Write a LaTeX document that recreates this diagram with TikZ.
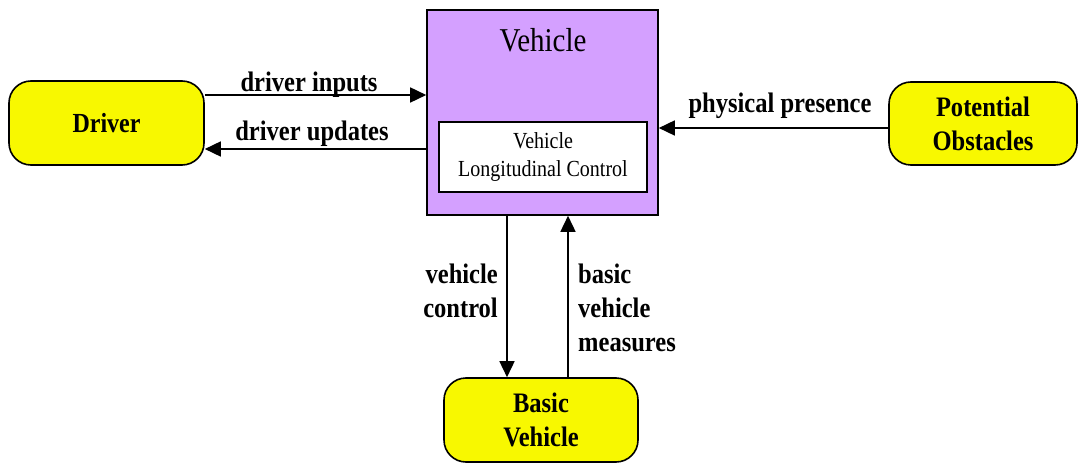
\documentclass[tikz,border=0pt]{standalone}
\usepackage{fontspec}
\setmainfont{Liberation Serif}[FakeStretch=0.87]
\usetikzlibrary{arrows.meta}
\definecolor{vpurple}{RGB}{212,160,255}
\definecolor{byellow}{RGB}{248,248,0}
\tikzset{
  ext/.style={draw=black, line width=1.6pt, fill=byellow, rounded corners=22pt, align=center, inner sep=0pt,
    font=\bfseries\fontsize{28.2}{34}\selectfont},
  arr/.style={line width=1.6pt, -{Triangle[length=16pt,width=15pt]}},
  lbl/.style={font=\bfseries\fontsize{28.2}{34}\selectfont, inner sep=0pt},
}
\begin{document}
\begin{tikzpicture}[x=1pt,y=-1pt]
\useasboundingbox (0,0) rectangle (1078,465);
% vehicle system box
\node[draw=black, line width=1.6pt, fill=vpurple, minimum width=231pt, minimum height=205pt, inner sep=0pt] (vehicle) at (542.5,112.5) {};
\node[font=\fontsize{33.3}{34}\selectfont, inner sep=0pt, anchor=base] (vtitle) at (543,52) {Vehicle};
\node[draw=black, line width=1.4pt, fill=white, minimum width=208pt, minimum height=70pt, inner sep=0pt, align=center,
  font=\fontsize{23}{28}\selectfont] (inner) at (543,157) {Vehicle\\Longitudinal Control};
% externals
\node[ext, minimum width=195pt, minimum height=84pt, font=\bfseries\fontsize{27.6}{34}\selectfont] (driver) at (106.5,123) {Driver};
\node[ext, minimum width=188pt, minimum height=83pt] (obst) at (983,123.5) {Potential\\Obstacles};
\node[ext, minimum width=194pt, minimum height=84pt] (basic) at (541,420) {Basic\\Vehicle};
% connectors
\draw[arr] (driver.east |- 0,95) -- (vehicle.west |- 0,95);
\draw[arr] (vehicle.west |- 0,149) -- (driver.east |- 0,149);
\draw[arr] (obst.west |- 0,128) -- (vehicle.east |- 0,128);
\draw[arr] (vehicle.south -| 507,0) -- (basic.north -| 507,0);
\draw[arr] (basic.north -| 568,0) -- (vehicle.south -| 568,0);
% labels
\node[lbl, anchor=base] (l1) at (309,92) {driver inputs};
\node[lbl, anchor=base] (l2) at (312,141) {driver updates};
\node[lbl, anchor=base] (l3) at (780,113) {physical presence};
\node[lbl, anchor=east, align=right] (l4) at (498,291) {vehicle\\control};
\node[lbl, anchor=west, align=left] (l5) at (578,308) {basic\\vehicle\\measures};
\end{tikzpicture}
\end{document}
